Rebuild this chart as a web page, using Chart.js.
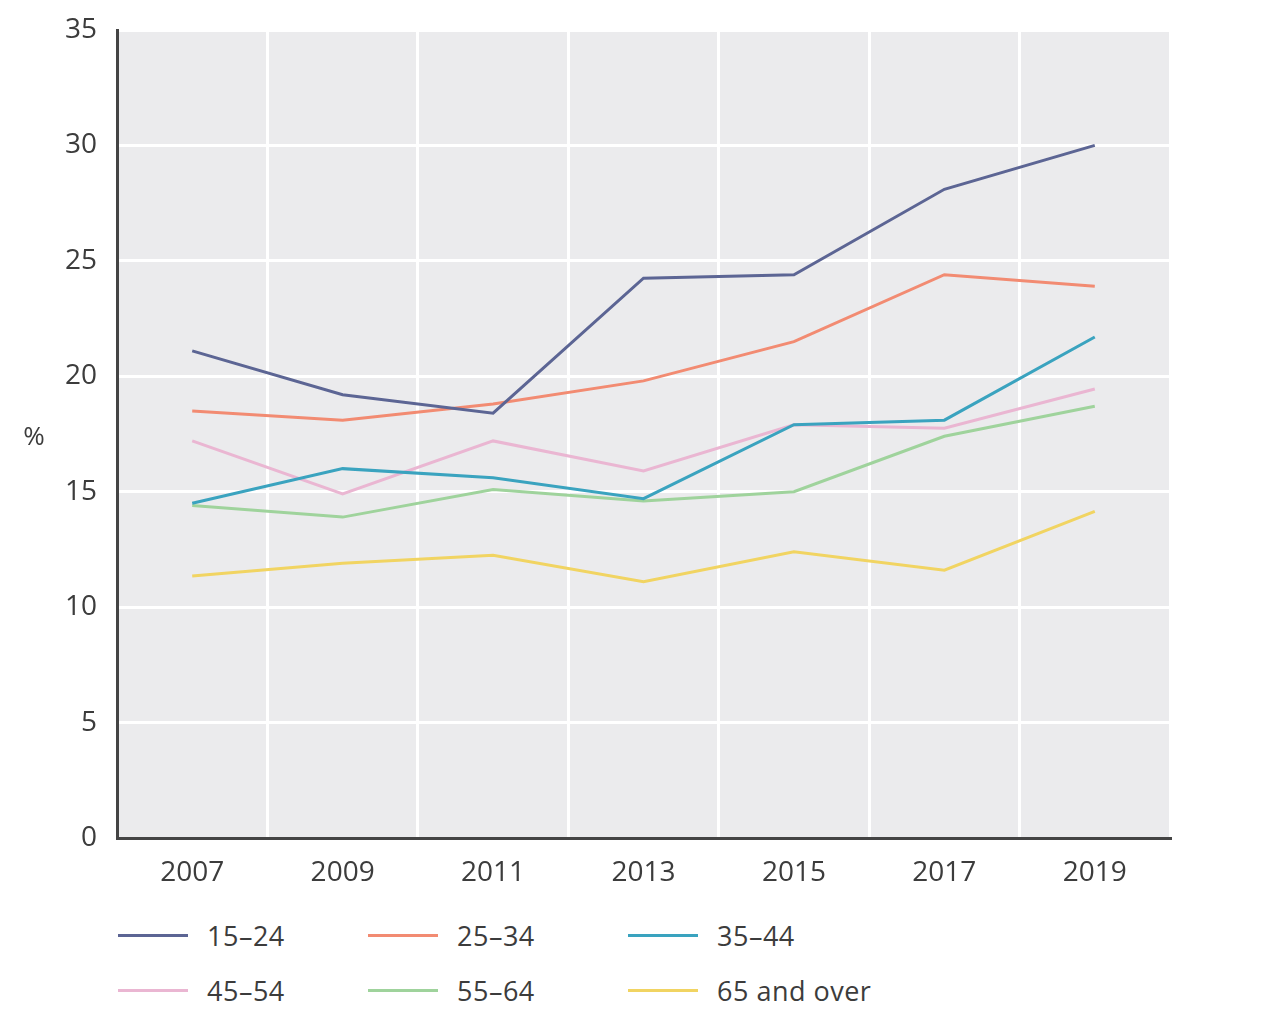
<!DOCTYPE html>
<html>
<head>
<meta charset="utf-8">
<script src="https://cdn.jsdelivr.net/npm/chart.js@4.4.1/dist/chart.umd.min.js"></script>
<style>
  html, body { margin: 0; padding: 0; background: #fff; }
  body { width: 1280px; height: 1023px; position: relative; overflow: hidden; font-family: "Open Sans", sans-serif; }
  #wrap { position: absolute; left: 0; top: 0; width: 1280px; height: 900px; }
  #legend { position: absolute; left: 0; top: 915px; width: 1280px; }
  .item { position: absolute; display: flex; align-items: center; font-size: 27px; color: #3c3c3c; height: 40px; letter-spacing: 0.5px; }
  .swatch { width: 70px; height: 3px; margin-right: 19px; }
</style>
</head>
<body>
<div id="wrap"><canvas id="c"></canvas></div>
<div id="legend"></div>
<script>
const categories = ["2007", "2009", "2011", "2013", "2015", "2017", "2019"];
const seriesNames = ["15–24", "25–34", "35–44", "45–54", "55–64", "65 and over"];
const s15_24 = [21.1, 19.2, 18.4, 24.25, 24.4, 28.1, 30.0];
const s25_34 = [18.5, 18.1, 18.8, 19.8, 21.5, 24.4, 23.9];
const s35_44 = [14.5, 16.0, 15.6, 14.7, 17.9, 18.1, 21.7];
const s45_54 = [17.2, 14.9, 17.2, 15.9, 17.9, 17.75, 19.45];
const s55_64 = [14.4, 13.9, 15.1, 14.6, 15.0, 17.4, 18.7];
const s65plus = [11.35, 11.9, 12.25, 11.1, 12.4, 11.6, 14.15];
const yTicks = [0, 5, 10, 15, 20, 25, 30, 35];
const colors = ["#5c6594", "#f28b72", "#3aa3bf", "#eab6d2", "#9fd39c", "#f1d462"];
const seriesValues = [s15_24, s25_34, s35_44, s45_54, s55_64, s65plus];

const bgPlugin = {
  id: 'bg',
  beforeDraw(chart) {
    const { ctx, chartArea: a } = chart;
    ctx.save();
    ctx.fillStyle = '#ebebed';
    ctx.fillRect(a.left, a.top, a.right - a.left, a.bottom - a.top);
    ctx.restore();
  },
  afterDraw(chart) {
    const { ctx } = chart;
    ctx.save();
    ctx.fillStyle = '#3c3c3c';
    ctx.font = '26px "Open Sans"';
    ctx.textAlign = 'center';
    ctx.textBaseline = 'middle';
    ctx.fillText('%', 34, 438);
    ctx.restore();
  }
};

const tickFont = { family: 'Open Sans', size: 28 };

const chart = new Chart(document.getElementById('c'), {
  type: 'line',
  data: {
    labels: categories,
    datasets: seriesNames.map((n, i) => ({
      label: n,
      data: seriesValues[i],
      borderColor: colors[i],
      backgroundColor: colors[i],
      borderWidth: 3,
      pointRadius: 0,
      tension: 0,
      fill: false
    }))
  },
  options: {
    responsive: true,
    maintainAspectRatio: false,
    animation: false,
    layout: { padding: { left: 0, right: 110, top: 30, bottom: 0 } },
    plugins: { legend: { display: false }, tooltip: { enabled: false } },
    scales: {
      x: {
        offset: true,
        grid: { offset: true, color: '#ffffff', lineWidth: 3, drawTicks: false },
        border: { display: true, color: '#444', width: 3 },
        ticks: { color: '#3c3c3c', font: tickFont, padding: 18 },
        afterFit(s) { s.height = 62; s.paddingLeft = 0; s.paddingRight = 0; }
      },
      y: {
        min: 0, max: 35,
        afterBuildTicks(s) { s.ticks = yTicks.map(v => ({ value: v })); },
        grid: { color: '#ffffff', lineWidth: 3, drawTicks: false },
        border: { display: true, color: '#444', width: 3 },
        ticks: { color: '#3c3c3c', font: tickFont, padding: 20 },
        afterFit(s) { s.width = 117; s.paddingTop = 0; s.paddingBottom = 0; }
      }
    }
  },
  plugins: [bgPlugin]
});

const legend = document.getElementById('legend');
const colX = [118, 368, 628];
const rowY = [0, 55];
chart.data.datasets.forEach((d, i) => {
  const el = document.createElement('div');
  el.className = 'item';
  el.style.left = colX[i % 3] + 'px';
  el.style.top = rowY[Math.floor(i / 3)] + 'px';
  const sw = document.createElement('span');
  sw.className = 'swatch';
  sw.style.background = d.borderColor;
  const tx = document.createElement('span');
  tx.textContent = d.label;
  el.appendChild(sw); el.appendChild(tx);
  legend.appendChild(el);
});
</script>
</body>
</html>
